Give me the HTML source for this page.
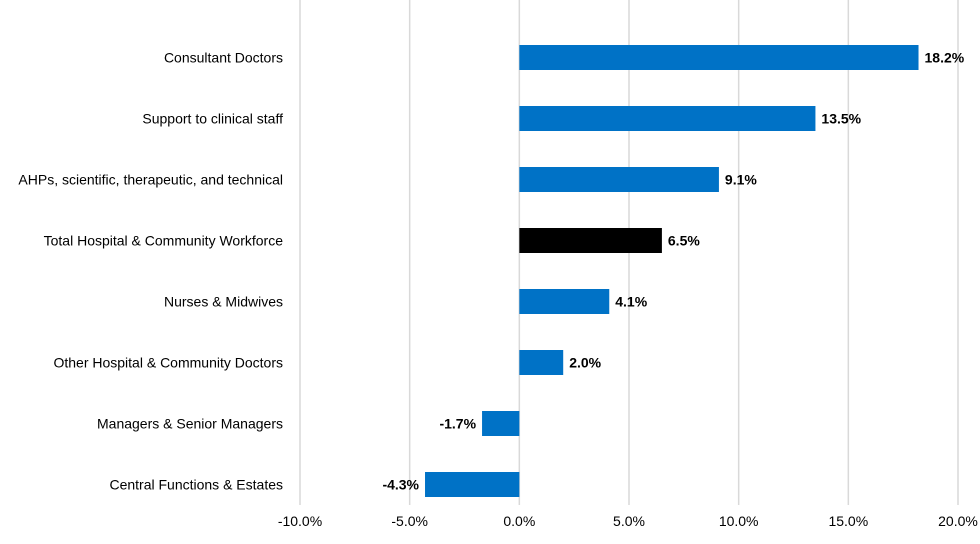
<!DOCTYPE html>
<html><head><meta charset="utf-8"><style>
html,body{margin:0;padding:0;background:#fff;}
svg{display:block;font-family:"Liberation Sans",sans-serif;}
</style></head><body>
<svg id="chart" width="980" height="544" viewBox="0 0 980 544"></svg>
<script>
const categories=["Consultant Doctors","Support to clinical staff","AHPs, scientific, therapeutic, and technical","Total Hospital & Community Workforce","Nurses & Midwives","Other Hospital & Community Doctors","Managers & Senior Managers","Central Functions & Estates"];
const values=[18.2,13.5,9.1,6.5,4.1,2.0,-1.7,-4.3];
const highlight=[false,false,false,true,false,false,false,false];
const ticks=[-10,-5,0,5,10,15,20];
const ns="http://www.w3.org/2000/svg";
const svg=document.getElementById('chart');
const x0=300,x1=958,vmin=-10,vmax=20;
const xs=v=>x0+(v-vmin)/(vmax-vmin)*(x1-x0);
const top0=45,step=61,barH=25;
const ys=i=>top0+i*step;
function mk(t,a){const e=document.createElementNS(ns,t);for(const k in a)e.setAttribute(k,a[k]);svg.appendChild(e);return e;}
ticks.forEach(t=>{
 const g=mk('line',{x1:xs(t),x2:xs(t),y1:0,y2:505,stroke:'#d9d9d9','stroke-width':1.5});
 
 
 const l=mk('text',{x:xs(t),y:526,'text-anchor':'middle','font-size':14,fill:'#000'});
 l.textContent=t.toFixed(1)+'%';
 
 
});
categories.forEach((c,i)=>{
 const cy=ys(i)+barH/2+5;
 const l=mk('text',{x:283,y:cy,'text-anchor':'end','font-size':14,fill:'#000'});
 l.textContent=c;
 
 
 const v=values[i];
 const a=xs(Math.min(0,v)),b=xs(Math.max(0,v));
 const r=mk('rect',{x:a,y:ys(i),width:b-a,height:barH,fill:highlight[i]?'#000':'#0072c6'});
 
 
 const t=mk('text',{x:v>=0?b+6:a-6,y:cy,'text-anchor':v>=0?'start':'end','font-size':14,'font-weight':'bold',fill:'#000'});
 t.textContent=v.toFixed(1)+'%';
 
 
});
</script>
</body></html>
